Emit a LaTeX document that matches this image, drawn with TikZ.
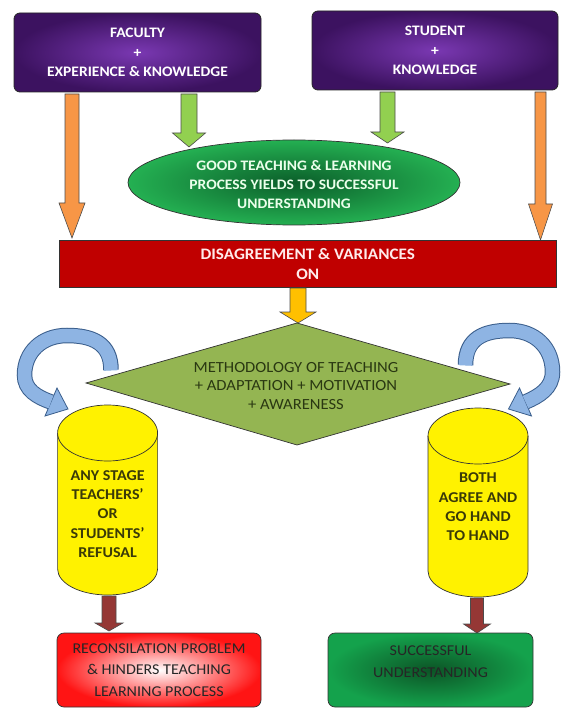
\documentclass[tikz,border=0pt]{standalone}
\usepackage{fontspec}
\setmainfont[FakeStretch=1.07]{Carlito}
\usetikzlibrary{shapes.geometric}

\definecolor{purL}{HTML}{7A38B2}
\definecolor{purD}{HTML}{3C1260}
\definecolor{ellIn}{HTML}{0B5E2A}
\definecolor{ellOut}{HTML}{24B052}
\definecolor{barRed}{HTML}{C00000}
\definecolor{diaGreen}{HTML}{94B552}
\definecolor{diaText}{HTML}{2A3812}
\definecolor{oranF}{HTML}{F79646}
\definecolor{greenF}{HTML}{92D050}
\definecolor{goldF}{HTML}{FFC000}
\definecolor{brownF}{HTML}{953735}
\definecolor{bluF}{HTML}{8EB4E3}
\definecolor{bluD}{HTML}{3A5E8C}
\definecolor{cylText}{HTML}{3A3A08}
\definecolor{boxRed}{HTML}{FF1414}
\definecolor{boxGreenIn}{HTML}{0C5426}
\definecolor{boxGreenOut}{HTML}{14A24C}

\newcommand\blockdown[7]{%
  \filldraw[#1] (#2-#6,#3) -- (#2+#6,#3) -- (#2+#6,#4) -- (#2+#7,#4) -- (#2,#5)
    -- (#2-#7,#4) -- (#2-#6,#4) -- cycle;}

\tikzset{
  topbox/.style={draw=black!85, line width=0.8pt, rounded corners=6pt,
    inner color=purL, outer color=purD, text=white, align=center,
    font=\bfseries\fontsize{14.5}{19.5}\selectfont},
  arrowline/.style={draw=black!70, line width=0.6pt},
  cylshape/.style={fill=yellow, draw=black!80, line width=0.7pt},
  cyltext/.style={text=cylText, align=center,
    font=\bfseries\fontsize{15}{19.3}\selectfont},
  botbox/.style={draw=black!80, line width=0.7pt, rounded corners=7pt,
    text=black!85, align=center, font=\fontsize{15}{21.5}\selectfont},
}

\begin{document}
\begin{tikzpicture}[x=1pt,y=-1pt]
\useasboundingbox (0,0) rectangle (565,708);

% top boxes
\node[topbox, minimum width=247pt, minimum height=79pt] (fac) at (137.5,52.5)
  {FACULTY\\+\\EXPERIENCE \& KNOWLEDGE};
\node[topbox, minimum width=246pt, minimum height=79pt] (stu) at (435,50.5)
  {STUDENT\\+\\KNOWLEDGE};

% orange and green arrows
\blockdown{arrowline, fill=oranF}{72}{94}{203}{238}{7}{13}
\blockdown{arrowline, fill=oranF}{540.5}{92}{204}{240}{5.5}{12}
\blockdown{arrowline, fill=greenF}{189}{94}{133}{147}{8}{16.5}
\blockdown{arrowline, fill=greenF}{387.5}{92}{132}{143}{7.5}{16.5}

% ellipse
\node[ellipse, draw=black!80, line width=0.7pt, inner color=ellIn, outer color=ellOut,
  minimum width=332pt, minimum height=85pt] (ell) at (294,182.5) {};
\node[text=green!8!white, align=center, font=\bfseries\fontsize{14.5}{19}\selectfont]
  (elltext) at (294,185) {GOOD TEACHING \& LEARNING\\PROCESS YIELDS TO SUCCESSFUL\\UNDERSTANDING};

% red bar
\node[draw=black!80, line width=0.7pt, fill=barRed, minimum width=496.5pt, minimum height=47pt,
  text=red!8!white, align=center, font=\bfseries\fontsize{16}{20}\selectfont] (bar) at (307.75,264)
  {DISAGREEMENT \& VARIANCES\\ON};

% gold arrow
\blockdown{arrowline, fill=goldF}{298}{288}{312}{323}{8}{18}

% diamond
\coordinate (dT) at (297,323);
\coordinate (dR) at (510,384);
\coordinate (dB) at (297,445);
\coordinate (dL) at (86,383);
\filldraw[fill=diaGreen, draw=black!80, line width=0.7pt] (dT) -- (dR) -- (dB) -- (dL) -- cycle;
\node[text=diaText, align=center, font=\fontsize{15.5}{18.3}\selectfont] (dia) at (296,386)
  {METHODOLOGY OF TEACHING\\+ ADAPTATION + MOTIVATION\\+ AWARENESS};

% blue curved arrows
\draw[line width=15.5pt, bluD] (111,370) .. controls (111,343) and (92,335.5) .. (67,335.5)
  .. controls (42,335.5) and (24.5,352) .. (24.5,375) .. controls (24.5,390) and (37,397) .. (51,402);
\filldraw[fill=bluF, draw=bluD, line width=0.8pt] (57,388) -- (68,409) -- (45,416) -- cycle;
\draw[line width=13.5pt, bluF] (111,370.5) .. controls (111,343) and (92,335.5) .. (67,335.5)
  .. controls (42,335.5) and (24.5,352) .. (24.5,375) .. controls (24.5,390) and (37,397) .. (51,402);

\draw[line width=15.5pt, bluD] (465.5,365) .. controls (465.5,338) and (484.5,330.5) .. (509.5,330.5)
  .. controls (534.5,330.5) and (552.5,347) .. (552.5,372) .. controls (552.5,388) and (539.5,396) .. (525.5,402);
\filldraw[fill=bluF, draw=bluD, line width=0.8pt] (519.5,388) -- (508.5,409) -- (531.5,416) -- cycle;
\draw[line width=13.5pt, bluF] (465.5,365.5) .. controls (465.5,338) and (484.5,330.5) .. (509.5,330.5)
  .. controls (534.5,330.5) and (552.5,347) .. (552.5,372) .. controls (552.5,388) and (539.5,396) .. (525.5,402);

% cylinders
\filldraw[cylshape] (57.6,433) -- (57.6,569) arc[start angle=180, end angle=0, x radius=50, y radius=26]
  -- (157.6,433) arc[start angle=0, end angle=-180, x radius=50, y radius=28] -- cycle;
\draw[black!80, line width=0.7pt] (57.6,433) arc[start angle=180, end angle=0, x radius=50, y radius=28];
\node[cyltext] (lcyl) at (107.6,514) {ANY STAGE\\TEACHERS'\\OR\\STUDENTS'\\REFUSAL};

\filldraw[cylshape] (428,436) -- (428,571) arc[start angle=180, end angle=0, x radius=50, y radius=26]
  -- (528,436) arc[start angle=0, end angle=-180, x radius=50, y radius=28] -- cycle;
\draw[black!80, line width=0.7pt] (428,436) arc[start angle=180, end angle=0, x radius=50, y radius=28];
\node[cyltext] (rcyl) at (478,507) {BOTH\\AGREE AND\\GO HAND\\TO HAND};

% brown arrows
\blockdown{arrowline, fill=brownF}{109}{596}{623}{631}{7}{14}
\blockdown{arrowline, fill=brownF}{477}{598}{624}{633}{6.5}{13.5}

% bottom boxes
\node[botbox, inner color=white, outer color=boxRed, minimum width=204pt, minimum height=74pt]
  (lbot) at (159,670) {RECONSILATION PROBLEM\\\& HINDERS TEACHING\\LEARNING PROCESS};
\node[botbox, inner color=boxGreenIn, outer color=boxGreenOut, minimum width=205pt, minimum height=74pt]
  (rbot) at (430.5,670) {};
\node[align=center, text=black!85, font=\fontsize{15}{22}\selectfont] (rbottext) at (430.5,662)
  {SUCCESSFUL\\UNDERSTANDING};
\end{tikzpicture}
\end{document}
